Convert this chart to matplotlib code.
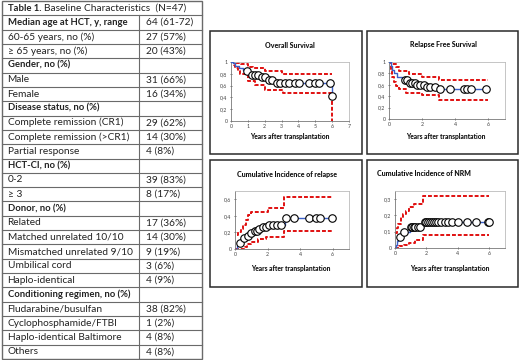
import numpy as np
import matplotlib
matplotlib.use("Agg")
import matplotlib.pyplot as plt
from matplotlib.patches import Rectangle

plt.rcParams['font.family'] = ['Lato', 'DejaVu Sans']

# ---- table data
row_labels = ["Median age at HCT, y, range", "60-65 years, no (%)", "\u2265 65 years, no (%)",
              "Gender, no (%)", "Male", "Female",
              "Disease status, no (%)", "Complete remission (CR1)", "Complete remission (>CR1)", "Partial response",
              "HCT-CI, no (%)", "0-2", "\u2265 3",
              "Donor, no (%)", "Related", "Matched unrelated 10/10", "Mismatched unrelated 9/10",
              "Umbilical cord", "Haplo-identical",
              "Conditioning regimen, no (%)", "Fludarabine/busulfan", "Cyclophosphamide/FTBI",
              "Haplo-identical Baltimore", "Others"]
row_values = ["64 (61-72)", "27 (57%)", "20 (43%)",
              "", "31 (66%)", "16 (34%)",
              "", "29 (62%)", "14 (30%)", "4 (8%)",
              "", "39 (83%)", "8 (17%)",
              "", "17 (36%)", "14 (30%)", "9 (19%)", "3 (6%)", "4 (9%)",
              "", "38 (82%)", "1 (2%)", "4 (8%)", "4 (8%)"]
bold_rows = ["Median age at HCT, y, range", "Gender, no (%)", "Disease status, no (%)",
             "HCT-CI, no (%)", "Donor, no (%)", "Conditioning regimen, no (%)"]

# ---- overall survival
os_t = [0, 0.1, 0.25, 0.45, 0.7, 0.9, 1.1, 1.7, 2.2, 2.6, 6.0]
os_s = [1, 0.98, 0.93, 0.89, 0.87, 0.84, 0.78, 0.74, 0.70, 0.65, 0.42]
os_up_t = [0, 0.3, 0.6, 1.0, 1.3, 2.0, 3.0, 6.0]
os_up = [1, 0.99, 0.96, 0.92, 0.89, 0.84, 0.79, 0.79]
os_lo_t = [0, 0.15, 0.25, 0.4, 0.55, 1.0, 1.4, 2.0, 3.1, 6.0, 6.0]
os_lo = [1, 0.95, 0.9, 0.85, 0.8, 0.67, 0.61, 0.53, 0.48, 0.48, 0.0]
os_cens = [0.95, 1.25, 1.42, 1.6, 1.84, 2.0, 2.25, 2.45, 2.7, 2.9, 3.2, 3.45, 3.8, 4.03,
           4.6, 4.98, 5.2, 5.9, 6.0]

# ---- relapse free survival
rfs_t = [0, 0.1, 0.2, 0.3, 0.5, 0.8, 1.2, 1.6, 2.2, 2.9, 6.0]
rfs_s = [1, 0.93, 0.86, 0.8, 0.74, 0.68, 0.64, 0.6, 0.57, 0.52, 0.52]
rfs_up_t = [0, 0.2, 0.4, 0.6, 1.2, 2.0, 3.0, 6.0]
rfs_up = [1, 0.97, 0.92, 0.85, 0.79, 0.74, 0.69, 0.69]
rfs_lo_t = [0, 0.1, 0.2, 0.3, 0.45, 0.6, 1.0, 2.0, 3.0, 6.0]
rfs_lo = [1, 0.85, 0.74, 0.65, 0.58, 0.52, 0.46, 0.42, 0.33, 0.33]
rfs_cens = [0.95, 1.1, 1.25, 1.4, 1.55, 1.7, 1.9, 2.1, 2.3, 2.5, 2.8, 3.1, 3.7, 4.5,
            4.7, 4.95, 5.85]

# ---- cumulative incidence of relapse
rel_t = [0, 0.1, 0.2, 0.35, 0.5, 0.7, 0.9, 1.1, 1.4, 1.7, 2.0, 3.1, 6.0]
rel_c = [0, 0.04, 0.07, 0.1, 0.13, 0.16, 0.19, 0.22, 0.24, 0.26, 0.29, 0.37, 0.37]
rel_up_t = [0.1, 0.2, 0.35, 0.5, 0.65, 0.8, 1.0, 2.0, 3.0, 6.0]
rel_up = [0.17, 0.2, 0.24, 0.29, 0.35, 0.41, 0.45, 0.49, 0.63, 0.63]
rel_lo_t = [0, 0.6, 0.75, 1.0, 1.4, 1.9, 3.0, 6.0]
rel_lo = [0, 0.03, 0.06, 0.09, 0.12, 0.15, 0.22, 0.22]
rel_cens = [0.3, 0.55, 0.8, 1.0, 1.2, 1.35, 1.5, 1.7, 1.9, 2.1, 2.35, 2.55, 2.8,
            3.15, 3.65, 4.55, 5.0, 5.2, 5.95]

# ---- cumulative incidence of NRM
nrm_t = [0, 0.05, 0.1, 0.2, 0.3, 0.45, 0.95, 1.8, 6.0]
nrm_c = [0, 0.02, 0.04, 0.06, 0.07, 0.1, 0.13, 0.16, 0.16]
nrm_up_t = [0.03, 0.1, 0.2, 0.35, 0.5, 0.7, 0.9, 1.2, 1.8, 6.0]
nrm_up = [0.09, 0.12, 0.15, 0.19, 0.21, 0.23, 0.25, 0.27, 0.32, 0.32]
nrm_lo_t = [0, 0.25, 0.55, 0.9, 1.3, 1.8, 6.0]
nrm_lo = [0, 0.01, 0.02, 0.03, 0.05, 0.08, 0.08]
nrm_cens = [0.3, 0.55, 1.0, 1.1, 1.2, 1.3, 1.45, 1.6, 1.9, 2.0, 2.1, 2.2, 2.35, 2.5,
            2.6, 2.75, 2.95, 3.15, 3.4, 3.65, 4.0, 4.6, 5.15, 5.9, 6.0]

W, H = 520, 360
fig = plt.figure(figsize=(5.2, 3.6), dpi=100)
bg = fig.add_axes([0, 0, 1, 1])
bg.set_xlim(0, W)
bg.set_ylim(H, 0)
bg.axis('off')

# ---- table
tx0, tx1, tcol = 1.5, 202, 139
ty0, ty1 = 1, 359
nrows = len(row_labels) + 1
rh = (ty1 - ty0) / nrows
lc = '#6a6a6a'
fs_reg, fs_bold = 7.3, 6.8
bg.add_patch(Rectangle((tx0, ty0), tx1 - tx0, ty1 - ty0, fill=False, ec=lc, lw=1.0))
for i in range(1, nrows):
    bg.plot([tx0, tx1], [ty0 + i * rh] * 2, color=lc, lw=0.8)
bg.plot([tcol, tcol], [ty0 + rh, ty1], color=lc, lw=0.8)
bg.text(7.5, ty0 + rh / 2, "Table 1.", fontsize=fs_bold, fontweight='bold', va='center', color='#222222')
bg.text(43.5, ty0 + rh / 2, "Baseline Characteristics  (N=47)", fontsize=fs_reg, va='center', color='#222222')
for i, (lab, val) in enumerate(zip(row_labels, row_values)):
    yc = ty0 + (i + 1.5) * rh
    if lab in bold_rows:
        bg.text(7.5, yc, lab, fontsize=fs_bold, va='center', color='#222222', fontweight='bold')
    else:
        bg.text(7.5, yc, lab, fontsize=fs_reg, va='center', color='#222222')
    bg.text(146, yc, val, fontsize=fs_reg, va='center', color='#222222')

# ---- panels
panels = [
    dict(frame=(210, 31, 362, 154), ax=(231, 62, 349, 121), title="Overall Survival", tx=290, ty=45,
         lx=290, ly=136, xlim=7, xt=list(range(8)), ylim=1.0, yt=[0, 0.2, 0.4, 0.6, 0.8, 1.0],
         yl=["0", "0,2", "0,4", "0,6", "0,8", "1"],
         cur=(os_t, os_s), up=(os_up_t, os_up), lo=(os_lo_t, os_lo), cens=os_cens),
    dict(frame=(367, 31, 518, 154), ax=(389, 62, 505, 119), title="Relapse Free Survival", tx=443, ty=45,
         lx=446, ly=137, xlim=7, xt=[0, 2, 4, 6], ylim=1.0, yt=[0, 0.2, 0.4, 0.6, 0.8, 1.0],
         yl=["0", "0,2", "0,4", "0,6", "0,8", "1"],
         cur=(rfs_t, rfs_s), up=(rfs_up_t, rfs_up), lo=(rfs_lo_t, rfs_lo), cens=rfs_cens),
    dict(frame=(210, 160, 362, 287), ax=(235, 191, 349, 249), title="Cumulative Incidence of relapse",
         tx=287, ty=174, lx=291, ly=268, xlim=7, xt=[0, 2, 4, 6], ylim=0.7, yt=[0, 0.2, 0.4, 0.6],
         yl=["0", "0,2", "0,4", "0,6"],
         cur=(rel_t, rel_c), up=(rel_up_t, rel_up), lo=(rel_lo_t, rel_lo), cens=rel_cens),
    dict(frame=(367, 160, 518, 287), ax=(395, 191, 505, 248), title="Cumulative Incidence of NRM",
         tx=424, ty=174, lx=450, ly=268, xlim=7, xt=[0, 2, 4, 6], ylim=0.35, yt=[0, 0.1, 0.2, 0.3],
         yl=["0", "0,1", "0,2", "0,3"],
         cur=(nrm_t, nrm_c), up=(nrm_up_t, nrm_up), lo=(nrm_lo_t, nrm_lo), cens=nrm_cens),
]

red = '#e01010'
blue = '#3a5fc8'
for p in panels:
    fx0, fy0, fx1, fy1 = p['frame']
    bg.add_patch(Rectangle((fx0, fy0), fx1 - fx0, fy1 - fy0, fill=False, ec='#2a2a2a', lw=1.1))
    bg.text(p['tx'], p['ty'], p['title'], fontsize=5.0, fontweight='black', ha='center', va='center',
            color='#111111')
    bg.text(p['lx'], p['ly'], "Years after transplantation", fontsize=4.8, fontweight='black',
            ha='center', va='center', color='#111111')
    ax0, ay0, ax1, ay1 = p['ax']
    ax = fig.add_axes([ax0 / W, (H - ay1) / H, (ax1 - ax0) / W, (ay1 - ay0) / H])
    ax.set_xlim(0, p['xlim'])
    ax.set_ylim(0, p['ylim'])
    ax.set_xticks(p['xt'])
    ax.set_xticklabels([str(v) for v in p['xt']])
    ax.set_yticks(p['yt'])
    ax.set_yticklabels(p['yl'])
    ax.tick_params(labelsize=3.8, length=2, width=0.5, direction='inout', colors='#444444', pad=1.5)
    for s in ['top', 'right']:
        ax.spines[s].set_color('#bbbbbb')
        ax.spines[s].set_linewidth(0.6)
    for s in ['left', 'bottom']:
        ax.spines[s].set_color('#777777')
        ax.spines[s].set_linewidth(0.6)

    t, v = p['cur']
    ax.step(t, v, where='post', color=blue, lw=1.0, zorder=3)
    t, v = p['up']
    ax.step(t, v, where='post', color=red, lw=1.4, ls=(0, (2, 1)), zorder=2)
    t, v = p['lo']
    ax.step(t, v, where='post', color=red, lw=1.4, ls=(0, (2, 1)), zorder=2)
    ct = np.array(p['cens'])
    idx = np.searchsorted(np.array(p['cur'][0]), ct, side='right') - 1
    cy = np.array(p['cur'][1])[idx]
    if p['title'] == "Overall Survival":
        cy[:-1] = np.where(ct[:-1] >= 5.9, np.array(p['cur'][1])[-2], cy[:-1])
    ax.plot(ct, cy, 'o', ms=5.4, mfc='white', mec='black', mew=0.8, zorder=4, clip_on=False)

fig.savefig("out.png", dpi=100)
